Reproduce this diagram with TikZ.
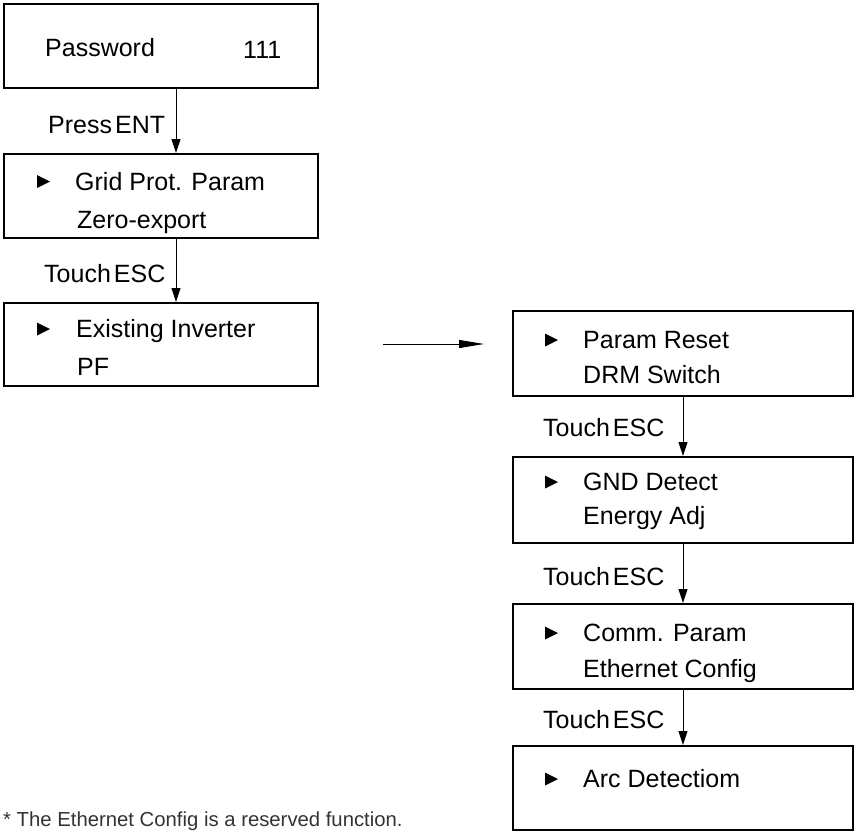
\documentclass[tikz,border=0pt]{standalone}
\usepackage{fontspec}
\setmainfont{Liberation Sans}
\usetikzlibrary{arrows.meta}
\begin{document}
\begin{tikzpicture}[x=1pt,y=-1pt,
  box/.style={draw,line width=2pt,rectangle,inner sep=0pt},
  txt/.style={anchor=base west,inner sep=0pt,font=\fontsize{25}{29}\selectfont},
  note/.style={anchor=base west,inner sep=0pt,font=\fontsize{20.3}{24}\selectfont,text=black!80},
  arr/.style={line width=1pt,-{Triangle[length=14pt,width=9pt]}},
  harr/.style={line width=1pt,-{Triangle[length=25pt,width=8pt]}},
  selmark/.style={fill=black}]
\useasboundingbox (0,0) rectangle (859,838);
% left boxes
\node[box,minimum width=314pt,minimum height=84pt] (b1) at (161,46) {};
\node[box,minimum width=314pt,minimum height=84pt] (b2) at (161,196) {};
\node[box,minimum width=314pt,minimum height=83pt] (b3) at (161,344.5) {};
% right boxes
\node[box,minimum width=340pt,minimum height=85pt] (r1) at (683,353.5) {};
\node[box,minimum width=340pt,minimum height=86pt] (r2) at (683,500) {};
\node[box,minimum width=340pt,minimum height=85pt] (r3) at (683,646.5) {};
\node[box,minimum width=340pt,minimum height=84pt] (r4) at (683,788) {};
% texts
\node[txt] (t1a) at (45,56) {Password};
\node[txt] (t1b) at (243,58) {111};
\node[txt] (t2a) at (75,190) {Grid Prot. Param};
\node[txt] (t2b) at (77,228) {Zero-export};
\node[txt] (t3a) at (76,337) {Existing Inverter};
\node[txt] (t3b) at (77,375) {PF};
\node[txt] (s1a) at (583,348) {Param Reset};
\node[txt] (s1b) at (583,383) {DRM Switch};
\node[txt] (s2a) at (583,490) {GND Detect};
\node[txt] (s2b) at (583,524) {Energy Adj};
\node[txt] (s3a) at (583,641) {Comm. Param};
\node[txt] (s3b) at (583,677) {Ethernet Config};
\node[txt] (s4a) at (583,787) {Arc Detectiom};
% selection markers
\fill[selmark] (37,175) -- (50,181.5) -- (37,188) -- cycle;
\fill[selmark] (37,322.5) -- (50,329) -- (37,335.5) -- cycle;
\fill[selmark] (545,333.5) -- (558,340) -- (545,346.5) -- cycle;
\fill[selmark] (545,475.5) -- (558,482) -- (545,488.5) -- cycle;
\fill[selmark] (545,626.5) -- (558,633) -- (545,639.5) -- cycle;
\fill[selmark] (545,772.5) -- (558,779) -- (545,785.5) -- cycle;
% labels
\node[txt] (l1) at (48,133) {Press\hspace{0.12em}ENT};
\node[txt] (l2) at (44,282) {Touch\hspace{0.12em}ESC};
\node[txt] (l3) at (543,436) {Touch\hspace{0.12em}ESC};
\node[txt] (l4) at (543,585) {Touch\hspace{0.12em}ESC};
\node[txt] (l5) at (543,728) {Touch\hspace{0.12em}ESC};
% arrows
\draw[arr] ([xshift=15pt]b1.south) -- ([xshift=15pt]b2.north);
\draw[arr] ([xshift=15pt]b2.south) -- ([xshift=15pt]b3.north);
\draw[arr] (r1.south) -- (r2.north);
\draw[arr] (r2.south) -- (r3.north);
\draw[arr] (r3.south) -- (r4.north);
\coordinate (h1) at (383,344);
\coordinate (h2) at (484,344);
\draw[harr] (h1) -- (h2);
% footnote
\node[note] (fn) at (3,826) {* The Ethernet Config is a reserved function.};
\end{tikzpicture}
\end{document}
